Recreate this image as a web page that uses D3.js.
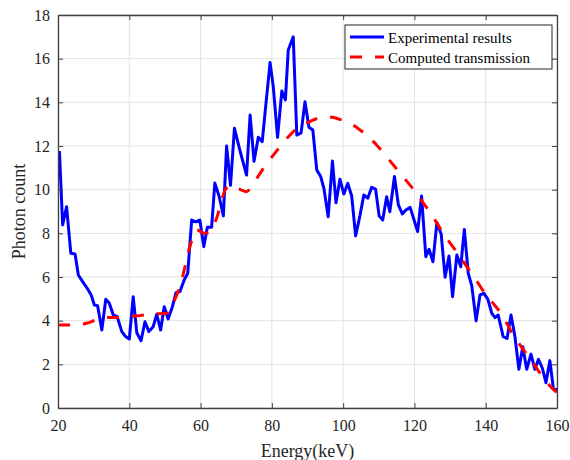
<!DOCTYPE html>
<html>
<head>
<meta charset="utf-8">
<script src="https://cdn.jsdelivr.net/npm/d3@7"></script>
<style>
body{margin:0;background:#fff;}
svg{display:block;}
svg text{font-family:"Liberation Serif","Times New Roman",serif !important;}
</style>
</head>
<body>
<svg id="chart" width="570" height="460"></svg>
<script>
const xTicks = [20,40,60,80,100,120,140,160];
const yTicks = [0,2,4,6,8,10,12,14,16,18];
const seriesNames = ["Experimental results","Computed transmission"];

const expEnergy = [20.4,21.3,22.4,23.6,24.8,25.7,27.1,28.2,29.3,30.2,31.1,32.3,33.4,34.4,35.5,36.6,37.9,38.8,40.0,41.1,42.1,43.3,44.4,45.5,46.7,47.7,48.8,49.8,50.9,52.1,53.1,54.2,55.4,56.4,57.5,58.6,59.8,60.9,61.9,63.1,64.0,65.2,66.4,67.3,68.4,69.5,71.2,72.9,73.9,75.0,76.2,77.3,78.4,79.5,80.4,81.6,82.8,83.8,84.6,86.0,87.0,88.2,89.3,90.4,91.5,92.6,93.7,94.6,95.8,97.0,98.0,99.1,100.2,101.3,102.4,103.5,104.7,105.8,106.9,108.0,109.1,110.1,111.1,112.2,113.1,114.4,115.5,116.6,117.6,118.8,119.9,120.9,122.0,123.2,124.1,125.2,126.3,127.5,128.6,129.7,130.7,131.9,133.0,134.0,135.1,136.1,137.3,138.4,139.5,140.6,141.7,142.6,143.5,144.9,146.0,147.1,148.2,149.3,150.4,151.5,152.7,153.8,154.8,155.9,156.9,158.0,159.0,160.0];
const expCount = [11.77,8.38,9.22,7.09,7.05,6.09,5.74,5.48,5.18,4.72,4.69,3.57,4.98,4.80,4.26,4.18,3.50,3.30,3.16,5.10,3.45,3.08,3.95,3.50,3.72,4.29,3.57,4.64,4.08,4.64,5.28,5.33,5.86,6.17,8.61,8.53,8.61,7.39,8.28,8.28,10.3,9.7,8.8,12.0,10.2,12.81,11.7,10.67,13.42,11.3,12.4,12.2,14.03,15.82,14.72,12.4,14.52,14.11,16.4,17.0,12.5,12.6,14.03,12.86,12.73,10.9,10.6,10.06,8.76,11.31,9.40,10.48,9.80,10.29,9.71,7.88,8.80,9.76,9.61,10.11,10.03,8.80,8.61,9.68,8.99,10.60,9.30,8.89,9.07,9.19,8.61,8.08,9.71,6.93,7.27,6.70,8.49,7.97,5.99,6.96,5.10,7.01,6.47,8.18,6.17,5.59,3.99,5.18,5.25,4.98,4.34,4.14,4.26,3.27,3.19,4.26,3.27,1.77,2.81,1.77,2.47,1.77,2.23,1.82,1.16,2.17,0.86,0.85];

const compEnergy = [20,24,28,31,34,38,42,46,50.5,52.3,54.7,57,58.9,61.2,62.5,64.5,66.9,68.3,70.5,72.9,74.3,76.5,78.6,80.5,82.3,84.5,86.5,88.5,90.7,92.5,94.4,96.8,99,101,103.8,106.5,109.4,112,114.5,117,119.7,121.8,123.9,126,128.1,130.5,132.8,135,137,139.8,141.7,144.9,147,149.6,152,154.3,157,160];
const compCount = [3.8,3.8,3.88,4.05,4.15,4.15,4.22,4.3,4.34,4.8,5.86,7.39,8.15,8.0,8.05,8.7,9.99,10.2,10.05,9.91,10.15,10.7,11.2,11.6,11.97,12.4,12.73,12.95,13.12,13.25,13.32,13.32,13.22,13.12,12.85,12.5,12.05,11.55,11.05,10.55,10.02,9.55,9.07,8.55,8.0,7.45,6.93,6.4,5.94,5.25,4.87,4.18,3.55,2.89,2.35,1.82,1.2,0.7];

const FONT = "Liberation Serif, Times New Roman, serif";
const svg = d3.select("#chart");
const L=58, R=557, T=15, B=408;
const x = d3.scaleLinear().domain([20,160]).range([L,R]);
const y = d3.scaleLinear().domain([0,18]).range([B,T]);

// grid
const g = svg.append("g");
g.selectAll(".gx").data(xTicks).enter().append("line")
  .attr("x1",d=>x(d)).attr("x2",d=>x(d)).attr("y1",T).attr("y2",B)
  .attr("stroke","#e3e3e3").attr("stroke-width",1);
g.selectAll(".gy").data(yTicks).enter().append("line")
  .attr("x1",L).attr("x2",R).attr("y1",d=>y(d)).attr("y2",d=>y(d))
  .attr("stroke","#e3e3e3").attr("stroke-width",1);

svg.append("clipPath").attr("id","clip").append("rect")
  .attr("x",L).attr("y",T).attr("width",R-L).attr("height",B-T);

const line = d3.line().x(d=>x(d[0])).y(d=>y(d[1]));
const expData = expEnergy.map((e,i)=>[e,expCount[i]]);
const compData = compEnergy.map((e,i)=>[e,compCount[i]]);

const plot = svg.append("g").attr("clip-path","url(#clip)");
plot.append("path").datum(expData).attr("d",line)
  .attr("fill","none").attr("stroke","#0000ff").attr("stroke-width",3)
  .attr("stroke-linejoin","round");
plot.append("path").datum(compData).attr("d",d3.line().x(d=>x(d[0])).y(d=>y(d[1])).curve(d3.curveMonotoneX))
  .attr("fill","none").attr("stroke","#ff0000").attr("stroke-width",3)
  .attr("stroke-dasharray","12,13");

// axes (inward ticks)
const axCol = "#404040";
const axB = svg.append("g").attr("transform",`translate(0,${B})`)
  .call(d3.axisBottom(x).tickValues(xTicks).tickSizeInner(-5).tickSizeOuter(0).tickPadding(12));
const axT = svg.append("g").attr("transform",`translate(0,${T})`)
  .call(d3.axisTop(x).tickValues(xTicks).tickSizeInner(-5).tickSizeOuter(0).tickFormat(""));
const axL = svg.append("g").attr("transform",`translate(${L},0)`)
  .call(d3.axisLeft(y).tickValues(yTicks).tickSizeInner(-5).tickSizeOuter(0).tickPadding(12));
const axR = svg.append("g").attr("transform",`translate(${R},0)`)
  .call(d3.axisRight(y).tickValues(yTicks).tickSizeInner(-5).tickSizeOuter(0).tickFormat(""));
[axB,axT,axL,axR].forEach(a=>{
  a.attr("font-family",FONT).attr("font-size",16);
  a.select(".domain").attr("stroke",axCol).attr("stroke-width",1.3);
  a.selectAll(".tick line").attr("stroke",axCol);
  a.selectAll("text").attr("fill","#262626").attr("font-family",FONT).attr("font-size",16);
});
axL.selectAll("text").attr("dx","4");

// axis labels
svg.append("text").attr("x",(L+R)/2).attr("y",457).attr("text-anchor","middle")
  .attr("fill","#262626").attr("font-family",FONT).attr("font-size",18).text("Energy(keV)");
svg.append("text").attr("transform",`translate(25,${(T+B)/2}) rotate(-90)`).attr("text-anchor","middle")
  .attr("fill","#262626").attr("font-family",FONT).attr("font-size",18).text("Photon count");

// legend
const lg = svg.append("g");
lg.append("rect").attr("x",345).attr("y",25).attr("width",207).attr("height",44)
  .attr("fill","#fff").attr("stroke","#262626").attr("stroke-width",1);
lg.append("line").attr("x1",350).attr("x2",384).attr("y1",37).attr("y2",37)
  .attr("stroke","#0000ff").attr("stroke-width",3);
lg.append("line").attr("x1",350).attr("x2",384).attr("y1",57).attr("y2",57)
  .attr("stroke","#ff0000").attr("stroke-width",3).attr("stroke-dasharray","12,13");
lg.append("text").attr("x",388).attr("y",42.5).attr("fill","#000").attr("font-family",FONT).attr("font-size",15).text(seriesNames[0]);
lg.append("text").attr("x",388).attr("y",62.5).attr("fill","#000").attr("font-family",FONT).attr("font-size",15).text(seriesNames[1]);
</script>
</body>
</html>
